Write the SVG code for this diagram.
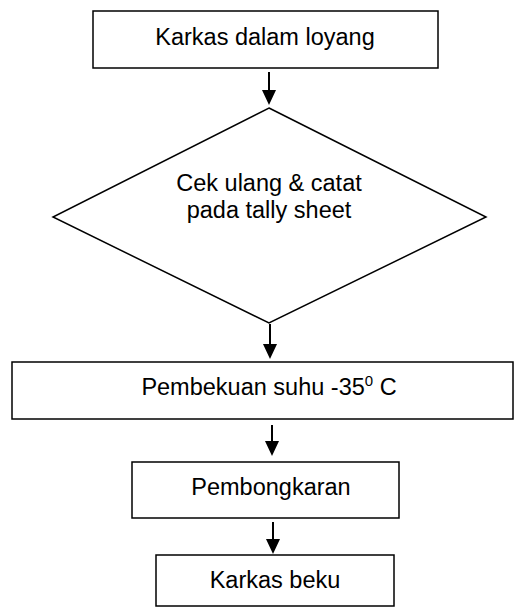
<svg xmlns="http://www.w3.org/2000/svg" width="514" height="608" viewBox="0 0 514 608">
<style>
.box{fill:#fff;stroke:#000;stroke-width:1.5}
.t{font-family:"Liberation Sans",Arial,sans-serif;font-size:23.5px;fill:#000;text-anchor:middle}
.c{stroke:#000;stroke-width:2;fill:none}
.h{fill:#000}
</style>
<g id="connectors">
<line class="c" x1="269" y1="72" x2="269" y2="92"/>
<path class="h" d="M262,90 L276,90 L269,105 Z"/>
<line class="c" x1="270" y1="324" x2="270" y2="345"/>
<path class="h" d="M263,344 L277,344 L270,359 Z"/>
<line class="c" x1="272" y1="425" x2="272" y2="443"/>
<path class="h" d="M265,441 L279,441 L272,456 Z"/>
<line class="c" x1="273" y1="522" x2="273" y2="541"/>
<path class="h" d="M266,539 L280,539 L273,554 Z"/>
</g>
<g id="n1">
<rect class="box" x="93" y="11" width="345" height="57"/>
<text class="t" x="265" y="45">Karkas dalam loyang</text>
</g>
<g id="n2">
<polygon class="box" points="269,108 486,217 269,323 53,217"/>
<text class="t" x="269" y="191">Cek ulang &amp; catat</text>
<text class="t" x="269" y="218">pada tally sheet</text>
</g>
<g id="n3">
<rect class="box" x="12" y="362" width="501" height="57"/>
<text class="t" x="269" y="395">Pembekuan suhu -35<tspan font-size="15" dy="-9">0</tspan><tspan dy="9"> C</tspan></text>
</g>
<g id="n4">
<rect class="box" x="132" y="462" width="267" height="56"/>
<text class="t" x="271" y="495">Pembongkaran</text>
</g>
<g id="n5">
<rect class="box" x="156" y="555" width="238" height="51"/>
<text class="t" x="275" y="588">Karkas beku</text>
</g>
</svg>
